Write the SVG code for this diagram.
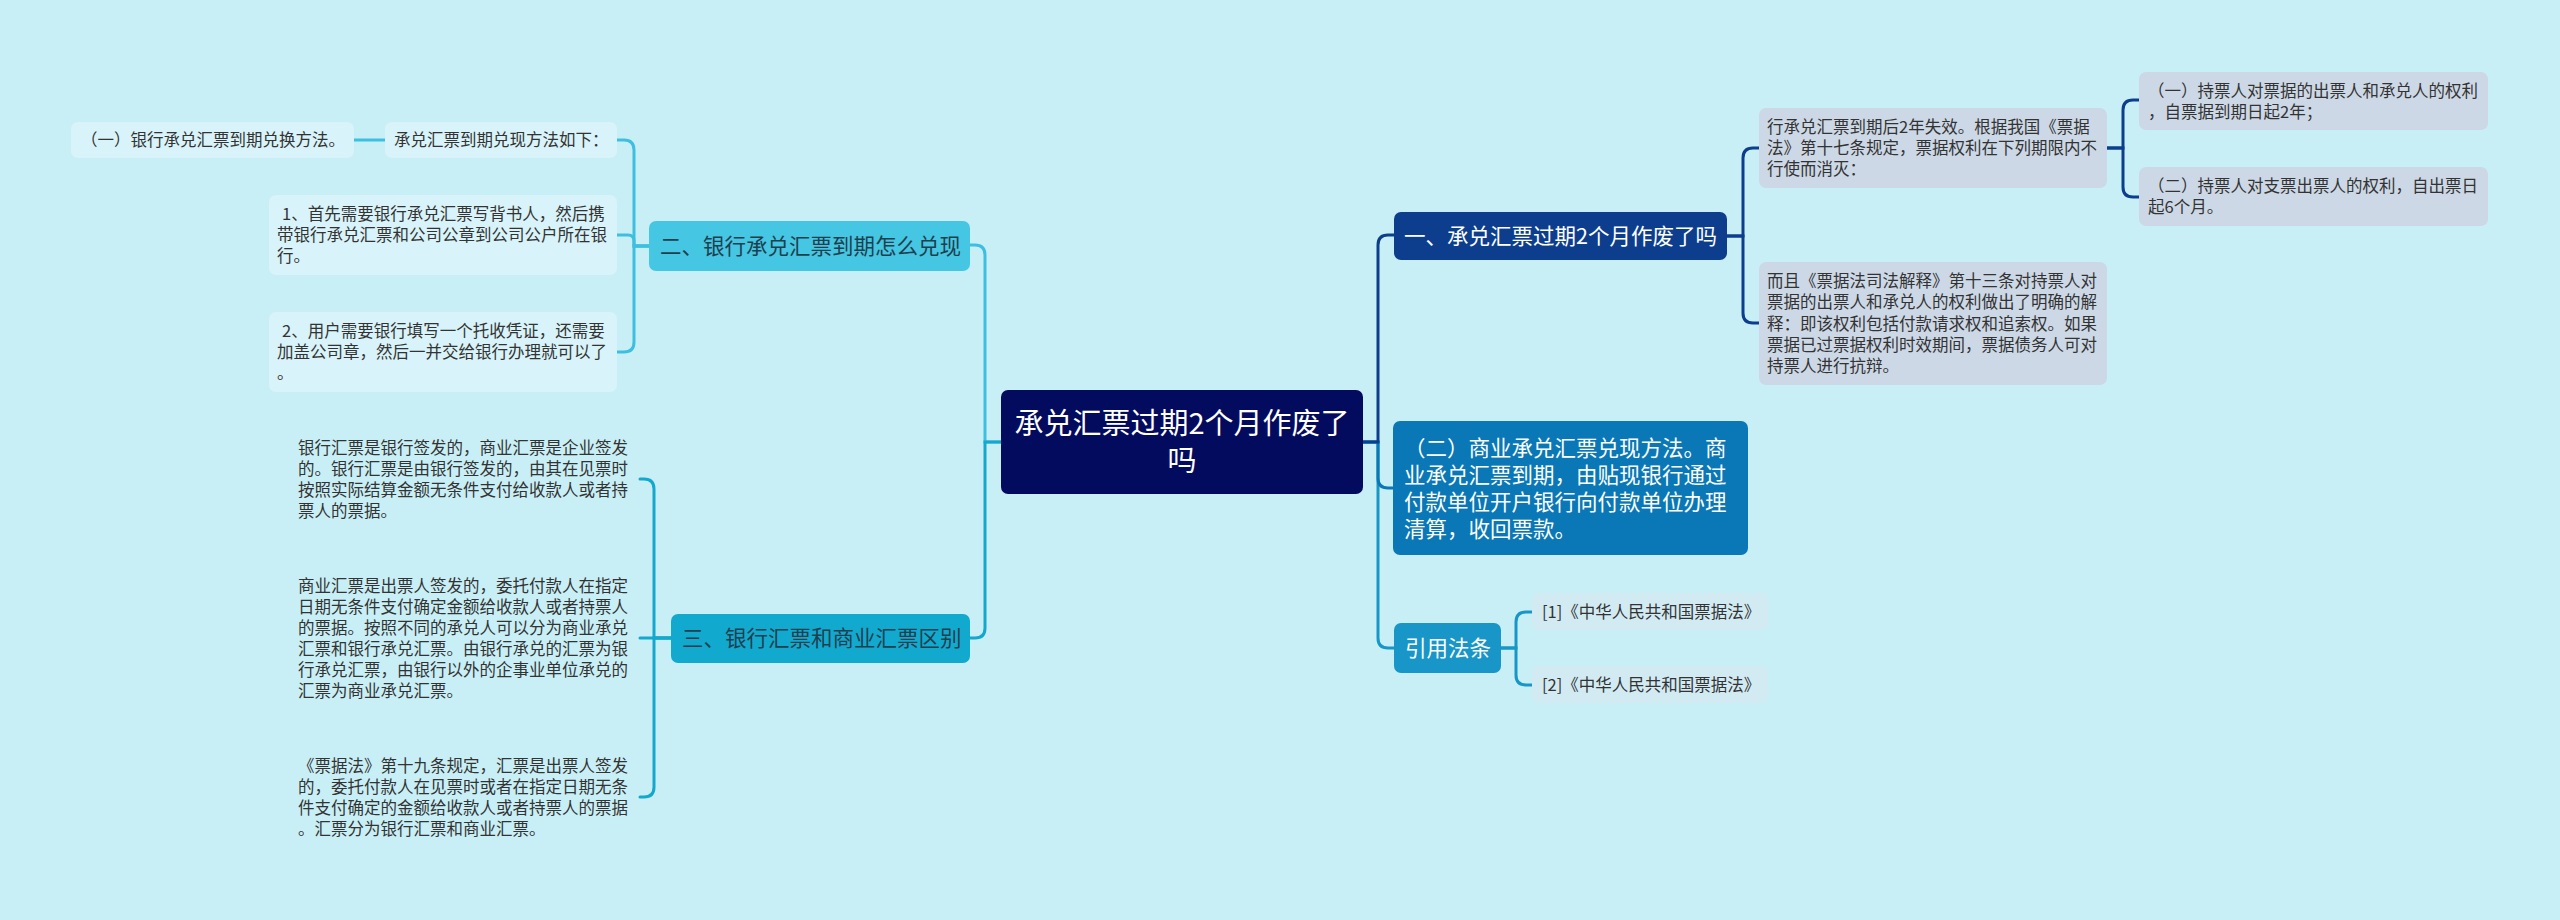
<svg xmlns="http://www.w3.org/2000/svg" width="2560" height="920" viewBox="0 0 2560 920">
<style>
text{font-family:"Noto Sans CJK SC","Noto Sans",sans-serif;}
.t16{font-size:16.5px;fill:#333333;}
.tn{font-size:21.5px;}
.w{fill:#ffffff;}
.d{fill:#1f3f4f;}
.lb{fill:#d8f3f9;}
.gb{fill:#ccd8e6;}
.cb{fill:#d2ebf3;}
.c{fill:none;stroke-width:3;stroke-linecap:round;}
</style>
<rect x="0" y="0" width="2560" height="920" fill="#c9eff6"/>
<g id="connectors">
<path class="c" stroke="#3dc0df" d="M1001,442 H985 V255 Q985,245 975,245 H970"/>
<path class="c" stroke="#14a8cd" d="M1001,442 H985 V628 Q985,638 975,638 H970"/>
<path class="c" stroke="#3dc0df" d="M649,246 H634 V150 Q634,140 624,140 H617"/>
<path class="c" stroke="#3dc0df" d="M649,246 H634 V241 Q634,235 628,235 H617"/>
<path class="c" stroke="#3dc0df" d="M649,246 H634 V342 Q634,352 624,352 H617"/>
<path class="c" stroke="#3dc0df" d="M385,140 H354"/>
<path class="c" stroke="#14a8cd" d="M671,638 H654 V489 Q654,479 644,479 H640"/>
<path class="c" stroke="#14a8cd" d="M671,638 H640"/>
<path class="c" stroke="#14a8cd" d="M671,638 H654 V787 Q654,797 644,797 H640"/>
<path class="c" stroke="#1996c8" d="M1363,442 H1378 V638 Q1378,648 1388,648 H1394"/>
<path class="c" stroke="#0a78b6" d="M1363,442 H1378 V478 Q1378,488 1388,488 H1393"/>
<path class="c" stroke="#0d3e8e" d="M1363,442 H1378 V245 Q1378,235 1388,235 H1394"/>
<path class="c" stroke="#0d3e8e" d="M1727,236 H1743 V158 Q1743,148 1753,148 H1759"/>
<path class="c" stroke="#0d3e8e" d="M1727,236 H1743 V313 Q1743,323 1753,323 H1759"/>
<path class="c" stroke="#0d3e8e" d="M2107,148 H2123 V110 Q2123,100 2133,100 H2139"/>
<path class="c" stroke="#0d3e8e" d="M2107,148 H2123 V187 Q2123,197 2133,197 H2139"/>
<path class="c" stroke="#1996c8" d="M1501,648 H1516 V622 Q1516,612 1526,612 H1532"/>
<path class="c" stroke="#1996c8" d="M1501,648 H1516 V675 Q1516,685 1526,685 H1532"/>
</g>
<g id="root">
<rect x="1001" y="390" width="362" height="104" rx="7" fill="#030b5e"/>
<text font-size="29" class="w" text-anchor="middle"><tspan x="1182" y="434">承兑汇票过期2个月作废了</tspan><tspan x="1182" y="471">吗</tspan></text>
</g>
<g id="n-er">
<rect x="649" y="221" width="321" height="50" rx="7" fill="#45c6e2"/>
<text x="660" y="254" class="tn d">二、银行承兑汇票到期怎么兑现</text>
</g>
<g id="n-er-a">
<rect x="71" y="122" width="283" height="36" rx="7" class="lb"/>
<text x="81" y="146" class="t16">（一）银行承兑汇票到期兑换方法。</text>
</g>
<g id="n-er-b">
<rect x="385" y="122" width="232" height="36" rx="7" class="lb"/>
<text x="394" y="146" class="t16">承兑汇票到期兑现方法如下：</text>
</g>
<g id="n-er-1">
<rect x="269" y="195" width="348" height="80" rx="7" class="lb"/>
<text class="t16"><tspan x="282" y="220">1、首先需要银行承兑汇票写背书人，然后携</tspan><tspan x="277" y="241">带银行承兑汇票和公司公章到公司公户所在银</tspan><tspan x="277" y="262">行。</tspan></text>
</g>
<g id="n-er-2">
<rect x="269" y="312" width="348" height="80" rx="7" class="lb"/>
<text class="t16"><tspan x="282" y="337">2、用户需要银行填写一个托收凭证，还需要</tspan><tspan x="277" y="358">加盖公司章，然后一并交给银行办理就可以了</tspan><tspan x="277" y="379">。</tspan></text>
</g>
<g id="n-san">
<rect x="671" y="614" width="299" height="49" rx="7" fill="#12a9cf"/>
<text x="682" y="646" class="tn d">三、银行汇票和商业汇票区别</text>
</g>
<g id="n-san-1">
<text class="t16"><tspan x="298" y="453.5">银行汇票是银行签发的，商业汇票是企业签发</tspan><tspan x="298" y="474.5">的。银行汇票是由银行签发的，由其在见票时</tspan><tspan x="298" y="495.5">按照实际结算金额无条件支付给收款人或者持</tspan><tspan x="298" y="516.5">票人的票据。</tspan></text>
</g>
<g id="n-san-2">
<text class="t16"><tspan x="298" y="591.5">商业汇票是出票人签发的，委托付款人在指定</tspan><tspan x="298" y="612.5">日期无条件支付确定金额给收款人或者持票人</tspan><tspan x="298" y="633.5">的票据。按照不同的承兑人可以分为商业承兑</tspan><tspan x="298" y="654.5">汇票和银行承兑汇票。由银行承兑的汇票为银</tspan><tspan x="298" y="675.5">行承兑汇票，由银行以外的企事业单位承兑的</tspan><tspan x="298" y="696.5">汇票为商业承兑汇票。</tspan></text>
</g>
<g id="n-san-3">
<text class="t16"><tspan x="298" y="772">《票据法》第十九条规定，汇票是出票人签发</tspan><tspan x="298" y="793">的，委托付款人在见票时或者在指定日期无条</tspan><tspan x="298" y="814">件支付确定的金额给收款人或者持票人的票据</tspan><tspan x="298" y="835">。汇票分为银行汇票和商业汇票。</tspan></text>
</g>
<g id="n-yi">
<rect x="1394" y="212" width="333" height="48" rx="7" fill="#0d3e8e"/>
<text x="1404" y="244" class="tn w">一、承兑汇票过期2个月作废了吗</text>
</g>
<g id="n-yi-1">
<rect x="1759" y="108" width="348" height="80" rx="7" class="gb"/>
<text class="t16"><tspan x="1767" y="133">行承兑汇票到期后2年失效。根据我国《票据</tspan><tspan x="1767" y="154">法》第十七条规定，票据权利在下列期限内不</tspan><tspan x="1767" y="175">行使而消灭：</tspan></text>
</g>
<g id="n-yi-1a">
<rect x="2139" y="72" width="349" height="58" rx="7" class="gb"/>
<text class="t16"><tspan x="2148" y="97">（一）持票人对票据的出票人和承兑人的权利</tspan><tspan x="2148" y="118">，自票据到期日起2年；</tspan></text>
</g>
<g id="n-yi-1b">
<rect x="2139" y="167" width="349" height="59" rx="7" class="gb"/>
<text class="t16"><tspan x="2148" y="192">（二）持票人对支票出票人的权利，自出票日</tspan><tspan x="2148" y="213">起6个月。</tspan></text>
</g>
<g id="n-yi-2">
<rect x="1759" y="262" width="348" height="123" rx="7" class="gb"/>
<text class="t16"><tspan x="1767" y="287">而且《票据法司法解释》第十三条对持票人对</tspan><tspan x="1767" y="308">票据的出票人和承兑人的权利做出了明确的解</tspan><tspan x="1767" y="329.5">释：即该权利包括付款请求权和追索权。如果</tspan><tspan x="1767" y="351">票据已过票据权利时效期间，票据债务人可对</tspan><tspan x="1767" y="372">持票人进行抗辩。</tspan></text>
</g>
<g id="n-er2">
<rect x="1393" y="421" width="355" height="134" rx="7" fill="#0a78b6"/>
<text class="tn w"><tspan x="1404" y="455.5">（二）商业承兑汇票兑现方法。商</tspan><tspan x="1404" y="482.5">业承兑汇票到期，由贴现银行通过</tspan><tspan x="1404" y="509.5">付款单位开户银行向付款单位办理</tspan><tspan x="1404" y="536.5">清算，收回票款。</tspan></text>
</g>
<g id="n-law">
<rect x="1394" y="623" width="107" height="50" rx="7" fill="#1996c8"/>
<text x="1405" y="656" class="tn w">引用法条</text>
</g>
<g id="n-law-1">
<rect x="1532" y="593" width="236" height="37" rx="7" class="cb"/>
<text x="1542" y="618" class="t16">[1]《中华人民共和国票据法》</text>
</g>
<g id="n-law-2">
<rect x="1532" y="666" width="236" height="37" rx="7" class="cb"/>
<text x="1542" y="691" class="t16">[2]《中华人民共和国票据法》</text>
</g>
</svg>
